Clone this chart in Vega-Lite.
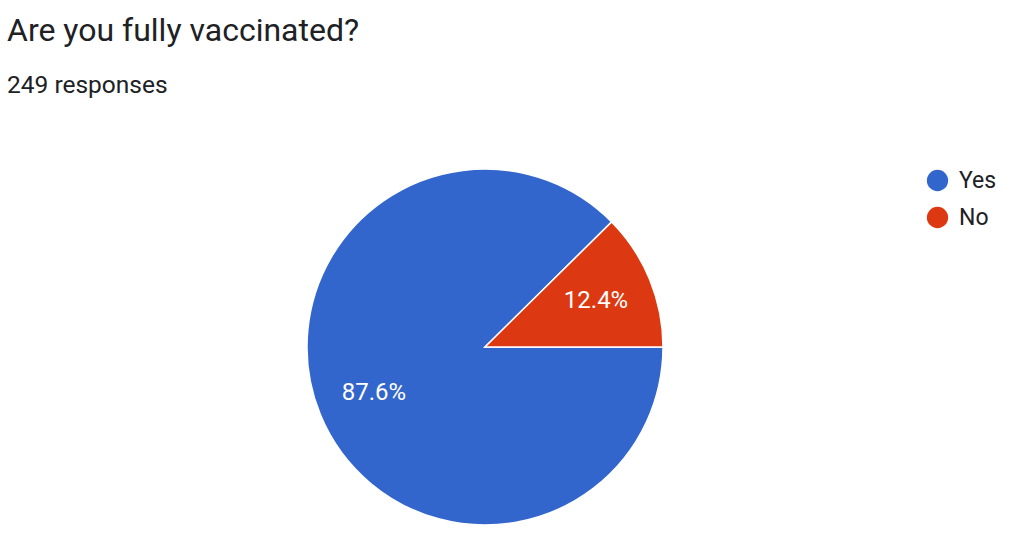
{
  "$schema": "https://vega.github.io/schema/vega-lite/v6.json",
  "autosize": {"type": "none"},
  "padding": {"left": 7, "top": 145, "right": 59, "bottom": 0},
  "width": 956,
  "height": 404,
  "background": "white",
  "title": {
    "text": "Are you fully vaccinated?",
    "subtitle": "249 responses",
    "anchor": "start",
    "frame": "group",
    "offset": 47,
    "font": "Roboto",
    "fontSize": 32,
    "fontWeight": "normal",
    "color": "#202124",
    "subtitleFont": "Roboto",
    "subtitleFontSize": 24.5,
    "subtitleColor": "#202124",
    "subtitlePadding": 26
  },
  "data": {
    "values": [
      {"answer": "Yes", "share": 0.876},
      {"answer": "No", "share": 0.124}
    ]
  },
  "encoding": {
    "theta": {"field": "share", "type": "quantitative", "stack": true, "scale": {"range": [1.5707963, 7.8539816]}},
    "order": {"field": "share", "sort": "descending"}
  },
  "layer": [
    {
      "mark": {"type": "arc", "outerRadius": 178, "stroke": "white", "strokeWidth": 1.5},
      "encoding": {
        "color": {
          "field": "answer",
          "type": "nominal",
          "scale": {"domain": ["Yes", "No"], "range": ["#3366CC", "#DC3912"]},
          "legend": {
            "title": null,
            "orient": "none",
            "legendX": 919,
            "legendY": 24,
            "symbolType": "circle",
            "symbolSize": 452,
            "symbolStrokeWidth": 0,
            "labelFont": "Roboto",
            "labelFontSize": 23,
            "labelColor": "#202124",
            "labelOffset": 10,
            "rowPadding": 13
          }
        }
      }
    },
    {
      "mark": {"type": "text", "radius": 120, "color": "white", "font": "Roboto", "fontSize": 24},
      "encoding": {
        "text": {"field": "share", "type": "quantitative", "format": ".1%"}
      }
    }
  ]
}
